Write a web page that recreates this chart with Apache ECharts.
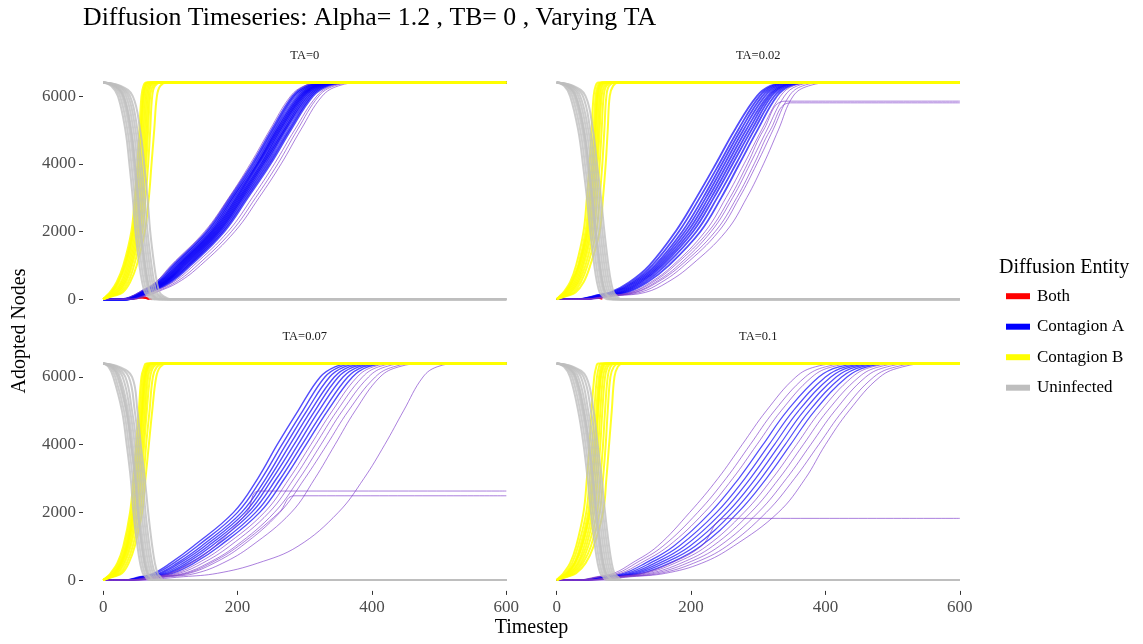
<!DOCTYPE html>
<html>
<head>
<meta charset="utf-8">
<script src="https://cdn.jsdelivr.net/npm/echarts@6/dist/echarts.min.js"></script>
<style>
  html, body { margin: 0; padding: 0; background: #ffffff; }
  #chart { width: 1143px; height: 644px; }
</style>
</head>
<body>
<div id="chart"></div>
<script>
// ---- Simulation runs: timestep at which each run reaches the given node count ----
const LEVELS_UP = [0, 100, 200, 500, 1000, 2000, 3000, 4000, 5000, 6000, 6300, 6400];
const LEVELS_DOWN = [6400, 6300, 6000, 5000, 4000, 3000, 2000, 1000, 500, 200, 100, 0];
const LAST_STEP = 600;
const facetLabels = ['TA=0', 'TA=0.02', 'TA=0.07', 'TA=0.1'];
const xTicks = [0, 200, 400, 600];
const yTicks = [0, 2000, 4000, 6000];

// TA = 0
const bothTA0 = [
  [[30, 0], [42, 30], [52, 60], [60, 45], [68, 0]],
  [[34, 0], [46, 25], [56, 70], [63, 50], [71, 0]],
  [[38, 0], [50, 20], [58, 45], [65, 30], [73, 0]]
];
const aCoreTA0 = [
  [30, 46, 55, 80, 104, 154, 189, 222, 251, 282, 302, 326],
  [32, 47, 57, 83, 107, 157, 192, 225, 254, 285, 306, 331],
  [33, 49, 58, 84, 110, 160, 194, 228, 257, 289, 309, 334],
  [34, 50, 59, 86, 112, 162, 197, 230, 259, 292, 312, 338],
  [34, 51, 60, 88, 114, 164, 199, 231, 261, 294, 315, 340],
  [35, 51, 61, 89, 116, 166, 201, 234, 263, 296, 316, 343],
  [35, 52, 62, 91, 118, 168, 203, 236, 265, 298, 319, 345],
  [36, 53, 63, 92, 120, 170, 205, 238, 268, 300, 321, 348],
  [36, 54, 64, 93, 122, 172, 207, 240, 270, 303, 324, 352],
  [37, 55, 66, 95, 125, 174, 209, 243, 272, 306, 327, 356],
  [38, 56, 67, 97, 127, 177, 212, 246, 276, 309, 330, 360],
  [38, 57, 69, 100, 130, 180, 215, 249, 279, 312, 334, 365]
];
const aOuterTA0 = [
  [28, 44, 53, 78, 101, 151, 187, 219, 248, 279, 299, 322],
  [40, 60, 72, 104, 135, 186, 222, 255, 285, 318, 340, 372],
  [42, 63, 76, 108, 140, 191, 227, 260, 289, 321, 344, 378],
  [44, 66, 79, 112, 145, 196, 232, 265, 294, 326, 350, 385]
];
const aStalledTA0 = [];
const bTA0 = [
  [0, 5, 10, 20, 30, 42, 47, 51, 54, 57, 60, 64],
  [0, 6, 12, 22, 32, 44, 49, 53, 56, 59, 62, 66],
  [0, 7, 13, 23, 33, 45, 50, 54, 57, 60, 63, 67],
  [0, 8, 15, 26, 35, 47, 52, 56, 59, 62, 65, 70],
  [0, 9, 17, 28, 37, 49, 54, 58, 61, 64, 67, 72],
  [0, 10, 19, 30, 39, 51, 56, 60, 63, 66, 69, 75],
  [0, 11, 21, 32, 41, 53, 58, 62, 65, 68, 71, 78],
  [0, 12, 23, 34, 43, 55, 60, 64, 67, 70, 74, 82],
  [0, 14, 26, 37, 46, 58, 63, 67, 70, 73, 77, 86],
  [0, 16, 29, 40, 50, 62, 68, 72, 76, 80, 85, 95]
];
const uTA0 = [
  [0, 12, 22, 33, 39, 44, 48, 54, 58, 62, 66, 72],
  [0, 14, 25, 36, 42, 47, 51, 57, 61, 65, 69, 76],
  [0, 16, 28, 39, 45, 50, 54, 60, 64, 68, 72, 80],
  [0, 17, 30, 41, 47, 52, 56, 62, 66, 70, 74, 82],
  [0, 18, 31, 42, 48, 53, 57, 63, 67, 71, 75, 84],
  [0, 20, 34, 45, 51, 56, 60, 66, 70, 74, 78, 88],
  [0, 22, 37, 48, 54, 59, 63, 69, 73, 77, 82, 92],
  [0, 24, 40, 51, 57, 62, 66, 72, 76, 80, 85, 96],
  [0, 26, 44, 55, 61, 66, 70, 76, 80, 84, 89, 100]
];

// TA = 0.02
const bothTA002 = [
  [[38, 0], [50, 20], [60, 35], [68, 0]]
];
const aCoreTA002 = [
  [33, 56, 80, 108, 138, 177, 208, 237, 265, 298, 318, 342],
  [34, 58, 83, 112, 142, 182, 213, 242, 270, 302, 322, 346],
  [35, 60, 86, 115, 146, 187, 218, 246, 274, 306, 326, 350],
  [35, 62, 89, 118, 149, 191, 222, 250, 278, 310, 330, 355],
  [36, 64, 92, 121, 152, 195, 226, 254, 282, 314, 334, 360],
  [37, 66, 95, 124, 155, 199, 230, 258, 286, 317, 337, 364],
  [37, 68, 98, 127, 158, 203, 234, 262, 290, 320, 340, 368],
  [38, 70, 101, 131, 162, 208, 239, 267, 294, 324, 344, 373],
  [39, 73, 105, 135, 167, 214, 245, 272, 299, 328, 348, 378]
];
const aOuterTA002 = [
  [40, 76, 110, 140, 173, 221, 252, 279, 305, 333, 352, 384],
  [42, 80, 116, 147, 181, 230, 262, 288, 313, 339, 358, 392],
  [44, 85, 124, 156, 190, 241, 272, 298, 322, 346, 366, 402],
  [46, 90, 132, 165, 200, 252, 283, 308, 330, 352, 375, 415]
];
const aStalledTA002 = [
  { levels: [0, 100, 200, 500, 1000, 2000, 3000, 4000, 5000, 5850], times: [40, 78, 112, 143, 176, 226, 258, 284, 308, 340] },
  { levels: [0, 100, 200, 500, 1000, 2000, 3000, 4000, 5000, 5800], times: [41, 82, 118, 150, 185, 236, 268, 294, 318, 348] }
];
const bTA002 = [
  [0, 5, 10, 20, 29, 40, 45, 49, 52, 55, 58, 62],
  [0, 6, 12, 22, 32, 43, 48, 52, 55, 58, 61, 66],
  [0, 7, 13, 23, 33, 45, 50, 54, 57, 60, 63, 68],
  [0, 8, 14, 25, 34, 46, 51, 55, 58, 61, 64, 69],
  [0, 9, 16, 27, 36, 48, 53, 57, 60, 63, 66, 72],
  [0, 10, 18, 29, 38, 50, 55, 59, 62, 65, 68, 75],
  [0, 11, 20, 31, 40, 52, 57, 61, 64, 67, 71, 79],
  [0, 12, 22, 33, 43, 55, 60, 64, 67, 70, 74, 83],
  [0, 14, 25, 36, 46, 59, 64, 68, 71, 74, 78, 88],
  [0, 16, 28, 40, 50, 64, 69, 73, 76, 79, 84, 92]
];
const uTA002 = [
  [0, 11, 20, 32, 39, 45, 50, 56, 60, 64, 68, 75],
  [0, 13, 23, 35, 42, 48, 53, 59, 63, 67, 71, 78],
  [0, 15, 26, 38, 45, 51, 56, 62, 66, 70, 74, 81],
  [0, 16, 28, 40, 47, 53, 58, 64, 68, 72, 76, 83],
  [0, 17, 29, 41, 48, 54, 59, 65, 69, 73, 77, 84],
  [0, 19, 32, 44, 51, 57, 62, 68, 72, 76, 80, 87],
  [0, 21, 35, 47, 54, 60, 65, 71, 75, 79, 83, 90],
  [0, 23, 39, 50, 57, 63, 68, 74, 78, 82, 86, 93],
  [0, 25, 43, 54, 60, 66, 71, 77, 81, 85, 89, 96]
];

// TA = 0.07
const bothTA007 = [];
const aCoreTA007 = [
  [30, 55, 75, 100, 134, 194, 230, 259, 290, 323, 345, 370],
  [31, 58, 79, 105, 140, 200, 236, 266, 297, 330, 352, 378],
  [32, 60, 83, 110, 146, 206, 242, 272, 303, 337, 359, 386],
  [33, 62, 86, 114, 151, 211, 247, 278, 309, 344, 366, 394],
  [34, 64, 90, 119, 156, 216, 252, 284, 315, 350, 373, 402],
  [35, 67, 94, 124, 161, 221, 258, 290, 321, 357, 380, 410],
  [36, 70, 98, 129, 167, 227, 264, 296, 328, 364, 387, 418],
  [37, 73, 103, 135, 173, 233, 270, 302, 334, 371, 394, 426]
];
const aOuterTA007 = [
  [38, 77, 108, 141, 180, 240, 277, 309, 341, 378, 402, 435],
  [40, 81, 113, 148, 188, 247, 284, 316, 348, 386, 410, 445],
  [42, 86, 120, 156, 197, 255, 292, 324, 356, 395, 420, 457],
  [44, 92, 128, 165, 206, 263, 300, 333, 365, 405, 432, 470],
  [46, 100, 138, 178, 220, 280, 315, 345, 375, 412, 440, 480],
  [45, 120, 170, 230, 290, 350, 388, 419, 447, 476, 497, 531]
];
const aStalledTA007 = [
  { levels: [0, 100, 200, 500, 1000, 2000, 2630], times: [36, 70, 100, 131, 166, 214, 232] },
  { levels: [0, 100, 200, 500, 1000, 2000, 2490], times: [42, 88, 124, 160, 201, 262, 284] },
  { levels: [0], times: [0] }
];
const bTA007 = [
  [0, 6, 11, 21, 30, 40, 45, 49, 53, 57, 61, 64],
  [0, 7, 13, 23, 32, 42, 47, 51, 55, 59, 63, 67],
  [0, 8, 15, 25, 34, 44, 49, 53, 57, 61, 65, 70],
  [0, 8, 16, 26, 35, 45, 50, 54, 58, 62, 66, 71],
  [0, 9, 17, 27, 36, 46, 51, 55, 59, 63, 67, 73],
  [0, 10, 18, 28, 37, 48, 53, 57, 61, 65, 69, 76],
  [0, 11, 20, 30, 39, 50, 55, 59, 63, 67, 72, 80],
  [0, 12, 22, 32, 41, 52, 57, 61, 65, 70, 75, 85],
  [0, 14, 25, 35, 44, 55, 60, 64, 69, 74, 80, 90],
  [0, 16, 28, 38, 47, 58, 63, 68, 73, 79, 85, 95]
];
const uTA007 = [
  [0, 8, 15, 28, 35, 41, 45, 51, 55, 59, 63, 68],
  [0, 10, 18, 31, 38, 44, 48, 54, 58, 62, 66, 71],
  [0, 12, 21, 34, 41, 47, 51, 57, 61, 65, 69, 74],
  [0, 13, 23, 35, 42, 48, 52, 58, 62, 66, 70, 75],
  [0, 14, 25, 37, 44, 50, 54, 60, 64, 68, 72, 77],
  [0, 16, 29, 40, 47, 53, 57, 63, 67, 71, 75, 80],
  [0, 18, 33, 43, 50, 56, 60, 66, 70, 74, 78, 83],
  [0, 21, 38, 47, 53, 59, 63, 69, 73, 77, 81, 86],
  [0, 24, 43, 51, 56, 62, 67, 73, 77, 81, 85, 90]
];

// TA = 0.1
const bothTA01 = [];
const aCoreTA01 = [
  [33, 69, 100, 132, 174, 229, 271, 307, 343, 390, 420, 465],
  [34, 72, 105, 139, 182, 238, 280, 316, 352, 400, 430, 475],
  [35, 75, 110, 146, 190, 246, 288, 324, 360, 408, 438, 484],
  [36, 78, 115, 153, 198, 254, 296, 332, 368, 416, 446, 492],
  [37, 82, 120, 160, 206, 262, 304, 340, 376, 424, 454, 500],
  [38, 86, 126, 168, 214, 270, 312, 348, 384, 432, 462, 508]
];
const aOuterTA01 = [
  [30, 60, 85, 112, 150, 198, 240, 276, 312, 356, 385, 430],
  [31, 63, 90, 118, 158, 210, 252, 288, 324, 370, 400, 443],
  [32, 66, 95, 125, 166, 220, 262, 298, 334, 380, 410, 455],
  [40, 90, 132, 176, 223, 279, 321, 357, 393, 440, 470, 516],
  [41, 95, 139, 185, 232, 289, 331, 367, 403, 450, 480, 526],
  [43, 100, 146, 194, 242, 300, 342, 378, 414, 460, 492, 538],
  [45, 106, 154, 204, 253, 312, 354, 390, 426, 472, 505, 550],
  [47, 112, 162, 216, 263, 330, 370, 400, 435, 481, 515, 556]
];
const aStalledTA01 = [
  { levels: [0, 100, 200, 500, 1000, 1823], times: [40, 88, 128, 170, 215, 252] },
  { levels: [0], times: [0] }
];
const bTA01 = [
  [0, 5, 10, 20, 29, 40, 45, 49, 52, 56, 59, 62],
  [0, 7, 13, 23, 32, 44, 49, 53, 56, 60, 63, 66],
  [0, 8, 15, 26, 35, 47, 52, 56, 59, 63, 66, 70],
  [0, 9, 16, 27, 37, 49, 54, 58, 61, 65, 68, 72],
  [0, 9, 17, 28, 38, 50, 55, 59, 62, 66, 70, 74],
  [0, 10, 19, 31, 41, 53, 58, 62, 65, 69, 73, 78],
  [0, 11, 21, 33, 44, 56, 61, 65, 68, 72, 76, 82],
  [0, 12, 23, 36, 47, 60, 65, 69, 72, 76, 80, 86],
  [0, 14, 26, 39, 51, 64, 69, 73, 76, 80, 85, 92],
  [0, 16, 29, 43, 55, 69, 74, 78, 82, 86, 91, 98]
];
const uTA01 = [
  [0, 11, 20, 32, 40, 46, 51, 57, 61, 65, 69, 74],
  [0, 13, 23, 35, 43, 49, 54, 60, 64, 68, 72, 78],
  [0, 15, 26, 38, 46, 52, 57, 63, 67, 71, 75, 82],
  [0, 16, 28, 40, 48, 54, 59, 65, 69, 73, 77, 84],
  [0, 17, 29, 41, 49, 55, 60, 66, 70, 74, 78, 85],
  [0, 19, 32, 44, 52, 58, 63, 69, 73, 77, 81, 88],
  [0, 21, 36, 47, 55, 61, 66, 72, 76, 80, 84, 91],
  [0, 23, 40, 51, 58, 64, 69, 75, 79, 83, 87, 94],
  [0, 25, 44, 55, 61, 67, 72, 78, 82, 86, 91, 97]
];

const facetData = [
  { both: bothTA0,   aCore: aCoreTA0,   aOuter: aOuterTA0,   aStalled: aStalledTA0,   b: bTA0,   u: uTA0 },
  { both: bothTA002, aCore: aCoreTA002, aOuter: aOuterTA002, aStalled: aStalledTA002, b: bTA002, u: uTA002 },
  { both: bothTA007, aCore: aCoreTA007, aOuter: aOuterTA007, aStalled: aStalledTA007, b: bTA007, u: uTA007 },
  { both: bothTA01,  aCore: aCoreTA01,  aOuter: aOuterTA01,  aStalled: aStalledTA01,  b: bTA01,  u: uTA01 }
];

// ---- Layout ----
const FONT = "'Liberation Serif', 'Times New Roman', serif";
const panels = [
  { left: 83,    top: 71.7,  bottomAxis: false, leftAxis: true,  coreWidth: 2.2 },
  { left: 536.5, top: 71.7,  bottomAxis: false, leftAxis: false, coreWidth: 1.8 },
  { left: 83,    top: 352.6, bottomAxis: true,  leftAxis: true,  coreWidth: 1.4 },
  { left: 536.5, top: 352.6, bottomAxis: true,  leftAxis: false, coreWidth: 1.2 }
];
const PANEL_W = 443.5, PANEL_H = 238.3;

const COLORS = {
  both: '#ff0000',
  aCore: 'rgba(10, 0, 250, 0.7)',
  aOuter: 'rgba(120, 50, 200, 0.62)',
  b: 'rgba(255, 255, 0, 0.85)',
  u: 'rgba(190, 190, 190, 0.8)'
};

function runPoints(times, levels, startValue) {
  const pts = [[0, startValue]];
  times.forEach((t, i) => pts.push([t, levels[i]]));
  pts.push([LAST_STEP, levels[levels.length - 1]]);
  return pts;
}

const grids = [], xAxes = [], yAxes = [], series = [];
panels.forEach((p, k) => {
  grids.push({ left: p.left, top: p.top, width: PANEL_W, height: PANEL_H, containLabel: false });
  xAxes.push({
    gridIndex: k, type: 'value', min: -30, max: 630,
    axisLine: { show: false, onZero: false }, splitLine: { show: false },
    axisTick: { show: p.bottomAxis, customValues: xTicks, length: 4, lineStyle: { color: '#333333', width: 1 } },
    axisLabel: { show: p.bottomAxis, customValues: xTicks, margin: 8, color: '#4d4d4d', fontFamily: FONT, fontSize: 17,
                 formatter: v => String(v) }
  });
  yAxes.push({
    gridIndex: k, type: 'value', min: -320, max: 6720,
    axisLine: { show: false, onZero: false }, splitLine: { show: false },
    axisTick: { show: p.leftAxis, customValues: yTicks, length: 4, lineStyle: { color: '#333333', width: 1 } },
    axisLabel: { show: p.leftAxis, customValues: yTicks, margin: 7, color: '#4d4d4d', fontFamily: FONT, fontSize: 17,
                 formatter: v => String(v) }
  });

  const d = facetData[k];
  const base = (name, data, color, width) => ({
    name, type: 'line', xAxisIndex: k, yAxisIndex: k, data,
    showSymbol: false, symbol: 'none', smooth: 0.4,
    silent: true, animation: false,
    lineStyle: { color, width },
    itemStyle: { color }
  });
  d.both.forEach(run => series.push(base('Both', run, COLORS.both, 1.5)));
  d.aCore.forEach(t => series.push(base('Contagion A', runPoints(t, LEVELS_UP, 0), COLORS.aCore, p.coreWidth)));
  d.aOuter.forEach(t => series.push(base('Contagion A', runPoints(t, LEVELS_UP, 0), COLORS.aOuter, 1)));
  d.aStalled.forEach(r => series.push(base('Contagion A', runPoints(r.times, r.levels, 0), COLORS.aOuter, 1)));
  d.b.forEach(t => series.push(base('Contagion B', runPoints(t, LEVELS_UP, 0), COLORS.b, 2)));
  d.u.forEach(t => series.push(base('Uninfected', runPoints(t, LEVELS_DOWN, 6400), COLORS.u, 2)));
});

const texts = [
  { text: 'Diffusion Timeseries: Alpha= 1.2 , TB= 0 , Varying TA', x: 83, y: 18, size: 25.8, align: 'left', color: '#000000' },
  { text: 'Timestep', x: 531.5, y: 628, size: 20, align: 'center', color: '#000000' },
  { text: 'Diffusion Entity', x: 999, y: 268, size: 20, align: 'left', color: '#000000' }
];
panels.forEach((p, k) => texts.push({
  text: facetLabels[k], x: p.left + PANEL_W / 2, y: p.top - 16, size: 12.5, align: 'center', color: '#1a1a1a'
}));

const graphic = texts.map(t => ({
  type: 'text', silent: true,
  style: { text: t.text, x: t.x, y: t.y, fill: t.color, font: t.size + 'px ' + FONT, textAlign: t.align, textVerticalAlign: 'middle' }
}));
graphic.push({
  type: 'text', silent: true, x: 20, y: 331, rotation: Math.PI / 2,
  style: { text: 'Adopted Nodes', x: 0, y: 0, fill: '#000000', font: '20px ' + FONT, textAlign: 'center', textVerticalAlign: 'middle' }
});

const chart = echarts.init(document.getElementById('chart'), null, { renderer: 'canvas' });
chart.setOption({
  backgroundColor: '#ffffff',
  animation: false,
  grid: grids,
  xAxis: xAxes,
  yAxis: yAxes,
  legend: {
    orient: 'vertical', left: 1001, top: 282.7, selectedMode: false,
    icon: 'rect', itemWidth: 24, itemHeight: 6, itemGap: 13.5,
    textStyle: { fontFamily: FONT, fontSize: 17, color: '#000000', padding: [0, 0, 0, 2] },
    data: [
      { name: 'Both', itemStyle: { color: '#ff0000', opacity: 1 } },
      { name: 'Contagion A', itemStyle: { color: '#0000ff', opacity: 1 } },
      { name: 'Contagion B', itemStyle: { color: '#ffff00', opacity: 1 } },
      { name: 'Uninfected', itemStyle: { color: '#bebebe', opacity: 1 } }
    ]
  },
  graphic,
  series
});
</script>
</body>
</html>
